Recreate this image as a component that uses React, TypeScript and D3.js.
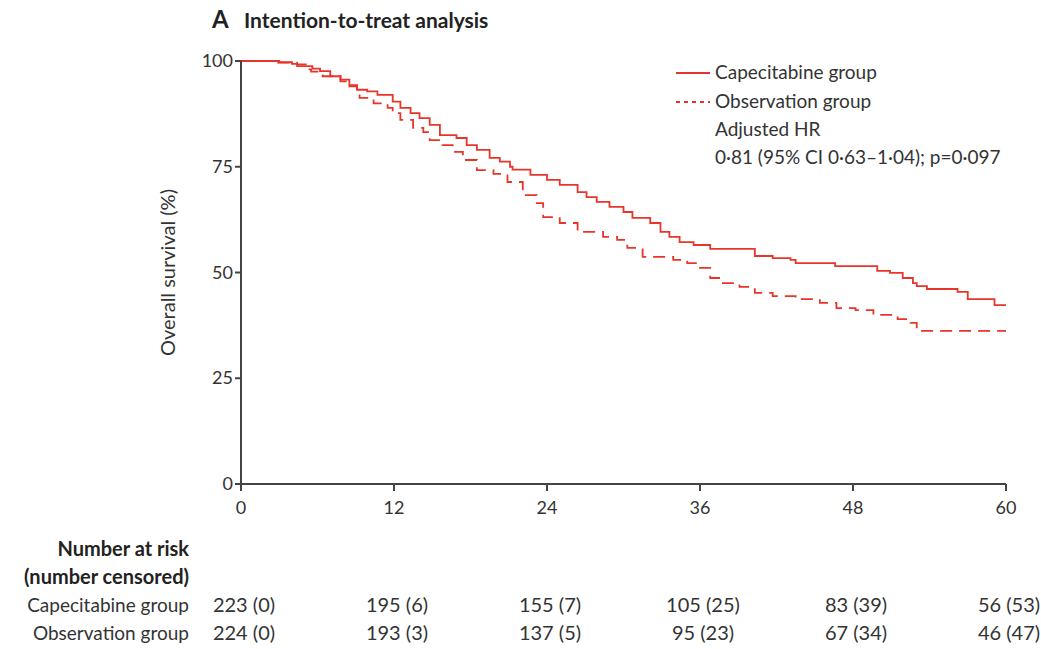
import React from 'react';
import { scaleLinear, line, curveStepAfter } from 'd3';

// Kaplan-Meier steps: [month, % surviving]
const capecitabine: [number, number][] = [
  [0, 100], [3.0, 99.7], [4.0, 99.3], [4.4, 98.8], [5.6, 98.2], [6.2, 97.6], [7.0, 96.4],
  [7.8, 95.6], [8.5, 94.3], [9.1, 93.2], [9.9, 92.8], [10.7, 92.0], [11.9, 90.4],
  [12.5, 88.9], [13.3, 87.7], [14.0, 86.5], [14.8, 84.9], [15.6, 82.5], [16.9, 81.8],
  [17.7, 80.1], [18.5, 79.0], [19.5, 77.1], [20.3, 76.2], [21.1, 75.0], [21.3, 74.3],
  [22.7, 73.1], [24.0, 71.9], [25.0, 70.7], [26.4, 69.0], [27.1, 67.8], [27.9, 66.7],
  [28.9, 65.5], [30.0, 64.3], [30.7, 62.9], [32.1, 61.7], [32.9, 59.6], [33.6, 58.4],
  [34.4, 57.2], [35.5, 56.5], [36.8, 55.6], [40.3, 53.9], [41.7, 53.4], [43.1, 53.0],
  [43.5, 52.2], [46.6, 51.5], [49.9, 50.4], [50.9, 49.9], [51.9, 48.7], [52.7, 47.5],
  [53.0, 46.8], [53.8, 46.1], [56.2, 45.4], [57.0, 43.7], [59.1, 42.3], [60, 42.3],
];

const observation: [number, number][] = [
  [0, 100], [2.6, 99.6], [4.4, 99.2], [5.2, 98.0], [5.5, 97.5], [6.4, 96.4], [7.8, 95.2],
  [8.3, 94.0], [9.1, 92.8], [9.3, 91.3], [10.4, 90.0], [11.5, 88.9], [11.9, 87.7],
  [12.5, 86.1], [13.5, 84.2], [14.3, 83.2], [14.8, 81.3], [15.8, 80.1], [16.6, 78.5],
  [17.4, 76.6], [18.5, 74.2], [19.8, 73.3], [20.9, 71.4], [22.1, 68.3], [23.2, 66.4],
  [23.7, 63.1], [25.0, 61.7], [26.4, 59.6], [28.4, 58.4], [29.5, 57.7], [30.3, 55.8],
  [31.5, 53.7], [33.9, 53.0], [35.0, 52.2], [36.0, 51.1], [36.8, 48.7], [37.6, 47.5],
  [39.1, 46.6], [40.3, 45.2], [41.7, 44.4], [43.5, 43.7], [45.4, 42.8], [46.7, 41.6],
  [48.2, 41.1], [49.6, 40.0], [51.5, 39.0], [52.5, 38.1], [53.0, 36.2], [60, 36.2],
];

const xTicks = [0, 12, 24, 36, 48, 60];
const yTicks = [0, 25, 50, 75, 100];

const riskMonths = [0, 12, 24, 36, 48, 60];
const capecitabineAtRisk = ['223 (0)', '195 (6)', '155 (7)', '105 (25)', '83 (39)', '56 (53)'];
const observationAtRisk = ['224 (0)', '193 (3)', '137 (5)', '95 (23)', '67 (34)', '46 (47)'];

const RED = '#e8352b';
const INK = '#333';
const FONT = 'Lato, "Open Sans", sans-serif';

export default function App() {
  const x = scaleLinear().domain([0, 60]).range([241, 1006]);
  const y = scaleLinear().domain([0, 100]).range([484, 61]);
  const path = line<[number, number]>()
    .x(d => x(d[0]))
    .y(d => y(d[1]))
    .curve(curveStepAfter);

  return (
    <svg
      width={1041}
      height={649}
      style={{ position: 'absolute', left: 0, top: 0, background: '#fff' }}
      fontFamily={FONT}
    >
      {/* title */}
      <text x={212} y={28} fontSize={24} fontWeight="bold" fill="#222">A</text>
      <text x={244} y={28} fontSize={21} fontWeight="bold" fill="#222">Intention-to-treat analysis</text>

      {/* curves */}
      <path d={path(observation) ?? ''} fill="none" stroke={RED} strokeWidth={1.8} strokeDasharray="12 7" />
      <path d={path(capecitabine) ?? ''} fill="none" stroke={RED} strokeWidth={1.8} />

      {/* axes */}
      <g stroke="#444" strokeWidth={2}>
        <line x1={x(0)} x2={x(0)} y1={y(100)} y2={y(0) + 1} />
        <line x1={x(0) - 1} x2={x(60)} y1={y(0)} y2={y(0)} />
        {yTicks.map(t => (
          <line key={'yt' + t} x1={x(0) - 6} x2={x(0)} y1={y(t)} y2={y(t)} />
        ))}
        {xTicks.map(t => (
          <line key={'xt' + t} x1={x(t)} x2={x(t)} y1={y(0)} y2={y(0) + 7} />
        ))}
      </g>
      {yTicks.map(t => (
        <text key={'yl' + t} x={x(0) - 8} y={y(t) + 6} fontSize={18} fill={INK} textAnchor="end">{t}</text>
      ))}
      {xTicks.map(t => (
        <text key={'xl' + t} x={x(t)} y={y(0) + 30} fontSize={18} fill={INK} textAnchor="middle">{t}</text>
      ))}
      <text
        transform={`translate(175, ${y(50)}) rotate(-90)`}
        fontSize={20}
        fill={INK}
        textAnchor="middle"
      >
        Overall survival (%)
      </text>

      {/* legend */}
      <line x1={676} x2={710} y1={73} y2={73} stroke={RED} strokeWidth={1.8} />
      <line x1={676} x2={710} y1={102} y2={102} stroke={RED} strokeWidth={1.8} strokeDasharray="4 4" />
      <g fontSize={19} fill={INK}>
        <text x={715} y={79}>Capecitabine group</text>
        <text x={715} y={108}>Observation group</text>
        <text x={715} y={136}>Adjusted HR</text>
        <text x={715} y={164}>0·81 (95% CI 0·63–1·04); p=0·097</text>
      </g>

      {/* number at risk table */}
      <g fontSize={19} fill={INK} textAnchor="end">
        <text x={189} y={556} fontSize={20} fontWeight="bold" fill="#222">Number at risk</text>
        <text x={189} y={584} fontSize={20} fontWeight="bold" fill="#222">(number censored)</text>
        <text x={189} y={612}>Capecitabine group</text>
        <text x={189} y={640}>Observation group</text>
      </g>
      <g fontSize={20} fill={INK} textAnchor="middle">
        {riskMonths.map((m, i) => (
          <text key={'c' + m} x={x(m) + 3} y={612}>{capecitabineAtRisk[i]}</text>
        ))}
        {riskMonths.map((m, i) => (
          <text key={'o' + m} x={x(m) + 3} y={640}>{observationAtRisk[i]}</text>
        ))}
      </g>
    </svg>
  );
}
